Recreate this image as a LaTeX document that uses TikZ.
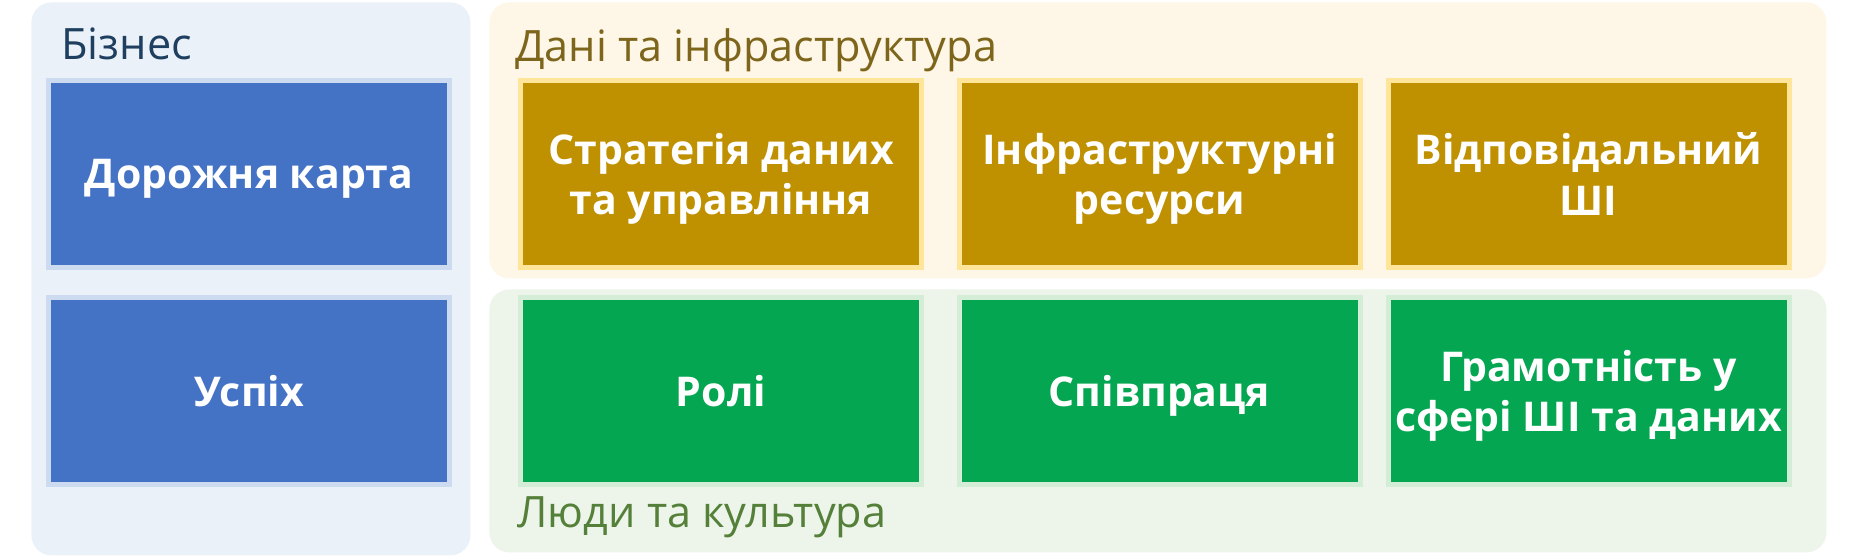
\documentclass[tikz,border=0pt]{standalone}
\usepackage{fontspec}
\setmainfont{Open Sans}
\definecolor{bizbg}{HTML}{EBF1F9}
\definecolor{bizink}{HTML}{1E3F5F}
\definecolor{bizfill}{HTML}{4472C4}
\definecolor{bizrim}{HTML}{CCDBF0}
\definecolor{databg}{HTML}{FEF6E6}
\definecolor{dataink}{HTML}{7D661C}
\definecolor{datafill}{HTML}{BF9000}
\definecolor{datarim}{HTML}{FFE59A}
\definecolor{peoplebg}{HTML}{EDF5EA}
\definecolor{peopleink}{HTML}{55803A}
\definecolor{peoplefill}{HTML}{05A651}
\definecolor{peoplerim}{HTML}{D3EDD6}
\begin{document}
\begin{tikzpicture}[x=0.5pt,y=-0.5pt,
    panel/.style={rounded corners=10pt, inner sep=0pt, anchor=north west},
    heading/.style={anchor=base west, inner sep=0pt, font=\fontsize{21.6}{26}\selectfont},
    tile/.style={line width=2.5pt, minimum width=200.5pt, minimum height=93.5pt, inner sep=0pt,
      text depth=0pt, align=center, text=white, font=\bfseries\fontsize{20.5}{25}\selectfont}]
  \useasboundingbox (0,0) rectangle (1854,560);
  \node[panel, fill=bizbg, minimum width=219.5pt, minimum height=276.5pt] (biz) at (31,2) {};
  \node[panel, fill=databg, minimum width=668.5pt, minimum height=138pt] (data) at (489,2) {};
  \node[panel, fill=peoplebg, minimum width=668.5pt, minimum height=131.5pt] (people) at (489,289) {};
  \node[heading, text=bizink] (bizhead) at (61,60) {Бізнес};
  \node[heading, text=dataink] (datahead) at (515,62) {Дані та інфраструктура};
  \node[heading, text=peopleink] (peoplehead) at (517,528) {Люди та культура};
  \node[tile, fill=bizfill, draw=bizrim] (roadmap) at (249,174) {Дорожня карта};
  \node[tile, fill=bizfill, draw=bizrim] (success) at (249,391) {Успіх};
  \node[tile, fill=datafill, draw=datarim] (strategy) at (721,174) {Стратегія даних\\та управління};
  \node[tile, fill=datafill, draw=datarim] (infra) at (1159.5,174) {Інфраструктурні\\ресурси};
  \node[tile, fill=datafill, draw=datarim] (rai) at (1588.5,174) {Відповідальний\\ШІ};
  \node[tile, fill=peoplefill, draw=peoplerim] (roles) at (721,391) {Ролі};
  \node[tile, fill=peoplefill, draw=peoplerim] (collab) at (1159.5,391) {Співпраця};
  \node[tile, fill=peoplefill, draw=peoplerim] (literacy) at (1588.5,391) {Грамотність у\\сфері ШІ та даних};
\end{tikzpicture}
\end{document}
